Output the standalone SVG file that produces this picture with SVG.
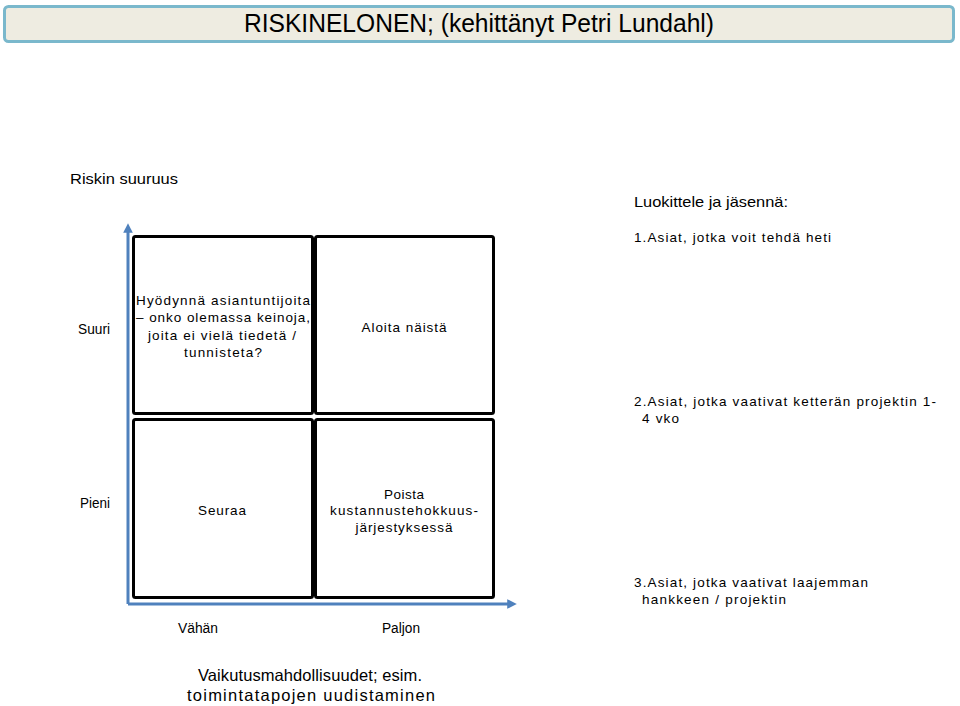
<svg xmlns="http://www.w3.org/2000/svg" width="960" height="706" viewBox="0 0 960 706">
<style>
text{font-family:"Liberation Sans",Arial,sans-serif;fill:#000}
.lbl{font-size:15px}
.sm{font-size:14px}
.sp{font-size:13.5px}
.box{fill:#fff;stroke:#000;stroke-width:3}
.axis{stroke:#4f81bd;stroke-width:3;fill:none}
</style>
<defs>
<marker id="ah" viewBox="0 0 10 10" refX="5" refY="5" markerWidth="3.2" markerHeight="3.2" orient="auto">
<path d="M0,0 L10,5 L0,10 z" fill="#4f81bd"/>
</marker>
</defs>
<rect width="960" height="706" fill="#fff"/>
<g id="title">
<rect x="4.5" y="6.5" width="949" height="35" rx="4" fill="#eeece1" stroke="#7ab8cc" stroke-width="3"/>
<text x="479" y="32" font-size="25" text-anchor="middle" textLength="470" lengthAdjust="spacingAndGlyphs">RISKINELONEN; (kehittänyt Petri Lundahl)</text>
</g>
<g id="connectors">
<path class="axis" d="M128,604 L128,228" marker-end="url(#ah)"/>
<path class="axis" d="M128,604 L512,604" marker-end="url(#ah)"/>
</g>
<g id="axis-labels">
<text class="lbl" x="70" y="184" textLength="108" lengthAdjust="spacingAndGlyphs">Riskin suuruus</text>
<text class="sm" x="78" y="334" textLength="32" lengthAdjust="spacingAndGlyphs">Suuri</text>
<text class="sm" x="80" y="508" textLength="30" lengthAdjust="spacingAndGlyphs">Pieni</text>
<text class="sm" x="178" y="633" textLength="40" lengthAdjust="spacingAndGlyphs">Vähän</text>
<text class="sm" x="382" y="633" textLength="38" lengthAdjust="spacingAndGlyphs">Paljon</text>
<text x="310" y="681" font-size="16.5" text-anchor="middle" textLength="224" lengthAdjust="spacing">Vaikutusmahdollisuudet; esim.</text>
<text x="311" y="701" font-size="16.5" text-anchor="middle" textLength="248" lengthAdjust="spacing">toimintatapojen uudistaminen</text>
</g>
<g id="box-tl">
<rect class="box" x="133.5" y="236.5" width="179" height="177" rx="2"/>
<text class="sp" x="223" y="305" text-anchor="middle" textLength="174" lengthAdjust="spacing">Hyödynnä asiantuntijoita</text>
<text class="sp" x="223" y="322" text-anchor="middle" textLength="174" lengthAdjust="spacing">– onko olemassa keinoja,</text>
<text class="sp" x="222" y="340" text-anchor="middle" textLength="148" lengthAdjust="spacing">joita ei vielä tiedetä /</text>
<text class="sp" x="223" y="357" text-anchor="middle" textLength="78" lengthAdjust="spacing">tunnisteta?</text>
</g>
<g id="box-tr">
<rect class="box" x="315.5" y="236.5" width="178" height="177" rx="2"/>
<text class="sp" x="404" y="332" text-anchor="middle" textLength="85" lengthAdjust="spacing">Aloita näistä</text>
</g>
<g id="box-bl">
<rect class="box" x="133.5" y="419.5" width="179" height="178" rx="2"/>
<text class="sp" x="222" y="515" text-anchor="middle" textLength="48" lengthAdjust="spacing">Seuraa</text>
</g>
<g id="box-br">
<rect class="box" x="315.5" y="419.5" width="178" height="178" rx="2"/>
<text class="sp" x="404" y="499" text-anchor="middle" textLength="40" lengthAdjust="spacing">Poista</text>
<text class="sp" x="404" y="515" text-anchor="middle" textLength="148" lengthAdjust="spacing">kustannustehokkuus-</text>
<text class="sp" x="404" y="532" text-anchor="middle" textLength="97" lengthAdjust="spacing">järjestyksessä</text>
</g>
<g id="list">
<text class="lbl" x="634" y="207" textLength="154" lengthAdjust="spacingAndGlyphs">Luokittele ja jäsennä:</text>
<text class="sp" x="634" y="242" textLength="197" lengthAdjust="spacing">1.Asiat, jotka voit tehdä heti</text>
<text class="sp" x="634" y="406" textLength="302" lengthAdjust="spacing">2.Asiat, jotka vaativat ketterän projektin 1-</text>
<text class="sp" x="642" y="423" textLength="37" lengthAdjust="spacing">4 vko</text>
<text class="sp" x="634" y="587" textLength="234" lengthAdjust="spacing">3.Asiat, jotka vaativat laajemman</text>
<text class="sp" x="642" y="604" textLength="144" lengthAdjust="spacing">hankkeen / projektin</text>
</g>
</svg>
